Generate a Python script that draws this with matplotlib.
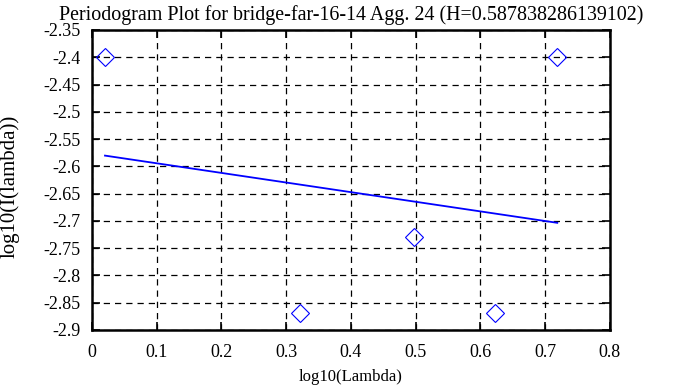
import matplotlib.pyplot as plt
import numpy as np

plt.rcParams["font.family"] = ["Liberation Serif", "DejaVu Serif"]
plt.rcParams["font.size"] = 12

# periodogram points: lambda = 2*pi*k/6, k = 1..5
k = np.array([1, 2, 3, 4, 5])
log_lambda = np.log10(2 * np.pi * k / 6)
log_I = [-2.400, -2.869, -2.730, -2.869, -2.400]
H = 0.587838286139102

fig = plt.figure(figsize=(6.93, 3.87), dpi=100)
ax = fig.add_axes([0.1328, 0.1473, 0.747, 0.7752])

# least squares fit line
b, a = np.polyfit(log_lambda, log_I, 1)
ax.plot(log_lambda, a + b * log_lambda, color="#0000ff", lw=1.3)
ax.plot(log_lambda, log_I, "D", mfc="none", mec="#0000ff", ms=9, mew=0.8)

ax.set_xlim(0, 0.8)
ax.set_ylim(-2.9, -2.35)
ax.set_xticks(np.arange(0, 0.81, 0.1))
ax.set_yticks(np.arange(-2.9, -2.349, 0.05))
ax.set_xticklabels(["0", "0.1", "0.2", "0.3", "0.4", "0.5", "0.6", "0.7", "0.8"])
ax.set_yticklabels(["-2.9", "-2.85", "-2.8", "-2.75", "-2.7", "-2.65", "-2.6",
                    "-2.55", "-2.5", "-2.45", "-2.4", "-2.35"])
ax.grid(True, color="black", linestyle=(0, (5, 4)), lw=0.9)
ax.tick_params(direction="in", top=True, right=True, length=6, width=1.2,
               labelsize=13)
ax.tick_params(axis="y", pad=8)
ax.tick_params(axis="x", pad=10)
for s in ax.spines.values():
    s.set_linewidth(1.8)

ax.set_title("Periodogram Plot for bridge-far-16-14 Agg. 24 (H=%s)" % H, pad=7)
ax.set_xlabel("log10(Lambda)", labelpad=6)
ax.set_ylabel("log10(I(lambda))", fontsize=15, va="center", ha="center")
ax.yaxis.set_label_coords(-0.158, 0.48)

fig.savefig("out.png")
